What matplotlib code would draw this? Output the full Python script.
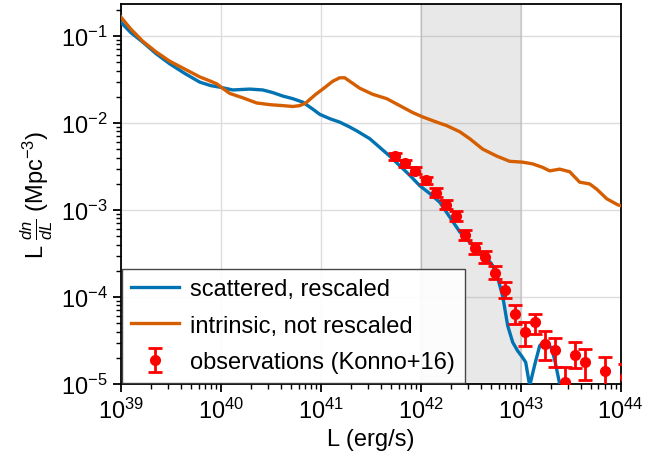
import numpy as np
import matplotlib
matplotlib.use("Agg")
import matplotlib.pyplot as plt

plt.rcParams['font.family'] = ['Liberation Sans', 'DejaVu Sans']
plt.rcParams['mathtext.fontset'] = 'custom'
plt.rcParams['mathtext.rm'] = 'Liberation Sans'
plt.rcParams['mathtext.it'] = 'Liberation Sans:italic'
plt.rcParams['mathtext.bf'] = 'Liberation Sans:bold'
plt.rcParams['font.size'] = 17

# scattered, rescaled (log10 L, log10 L dn/dL)
scat_logL = [39.0, 39.1, 39.22, 39.35, 39.49, 39.64, 39.79, 39.9, 40.0, 40.12,
             40.29, 40.42, 40.52, 40.62, 40.72, 40.82, 40.92, 40.99, 41.09, 41.19,
             41.28, 41.36, 41.49, 41.59, 41.69, 41.79, 41.89, 41.99, 42.09, 42.19,
             42.29, 42.39, 42.49, 42.59, 42.66, 42.72, 42.77, 42.82, 42.87, 42.92,
             42.97, 43.01, 43.05, 43.09, 43.14, 43.19, 43.24, 43.27, 43.31, 43.34,
             43.39, 43.45]
scat_logn = [-0.84, -0.96, -1.07, -1.20, -1.32, -1.43, -1.53, -1.57, -1.59, -1.62,
             -1.61, -1.62, -1.65, -1.69, -1.72, -1.76, -1.84, -1.90, -1.95, -1.99,
             -2.04, -2.09, -2.18, -2.28, -2.38, -2.49, -2.60, -2.72, -2.81, -2.91,
             -3.08, -3.25, -3.37, -3.48, -3.55, -3.64, -3.78, -3.99, -4.33, -4.52,
             -4.62, -4.68, -4.75, -5.02, -4.78, -4.56, -4.50, -4.52, -4.60, -4.72,
             -5.0, -5.5]

# intrinsic, not rescaled
intr_logL = [39.0, 39.1, 39.22, 39.35, 39.49, 39.64, 39.79, 39.9, 39.96, 40.03,
             40.09, 40.22, 40.36, 40.5, 40.62, 40.72, 40.79, 40.85, 40.89, 40.95,
             41.02, 41.12, 41.19, 41.24, 41.29, 41.39, 41.52, 41.66, 41.79, 41.92,
             42.02, 42.16, 42.26, 42.39, 42.49, 42.62, 42.76, 42.89, 43.02, 43.12,
             43.22, 43.29, 43.39, 43.49, 43.59, 43.69, 43.76, 43.86, 43.97, 44.0]
intr_logn = [-0.78, -0.92, -1.06, -1.18, -1.29, -1.38, -1.47, -1.52, -1.55, -1.61,
             -1.66, -1.71, -1.77, -1.79, -1.80, -1.81, -1.80, -1.77, -1.73, -1.67,
             -1.61, -1.52, -1.48, -1.48, -1.52, -1.60, -1.67, -1.72, -1.80, -1.88,
             -1.93, -1.99, -2.03, -2.10, -2.18, -2.30, -2.38, -2.44, -2.45, -2.47,
             -2.51, -2.55, -2.53, -2.56, -2.68, -2.70, -2.76, -2.87, -2.94, -2.95]

# Konno+16 observations
obs_logL = [41.74, 41.84, 41.94, 42.05, 42.15, 42.25, 42.35, 42.44, 42.54, 42.64,
            42.74, 42.84, 42.94, 43.04, 43.14, 43.24, 43.34, 43.44, 43.54, 43.64,
            43.84, 44.04]
obs_logn = [-2.38, -2.46, -2.55, -2.66, -2.80, -2.94, -3.07, -3.29, -3.44, -3.54,
            -3.72, -3.92, -4.20, -4.40, -4.29, -4.54, -4.61, -4.98, -4.67, -4.75,
            -4.85, -4.92]
obs_err_lo = [0.04, 0.04, 0.04, 0.045, 0.05, 0.05, 0.055, 0.06, 0.065, 0.07,
              0.077, 0.088, 0.11, 0.16, 0.13, 0.18, 0.2, 0.2, 0.15, 0.2,
              0.2, 0.2]
obs_err_hi = [0.04, 0.04, 0.04, 0.045, 0.05, 0.05, 0.055, 0.06, 0.065, 0.07,
              0.077, 0.088, 0.11, 0.11, 0.1, 0.15, 0.14, 0.17, 0.15, 0.15,
              0.16, 0.15]

shade_range = (1e42, 1e43)

blue = '#0173b2'
orange = '#d55e00'

fig = plt.figure(figsize=(6.71, 4.6), dpi=100)
ax = fig.add_axes([0.180, 0.163, 0.745, 0.826])

ax.axvspan(*shade_range, color='gray', alpha=0.18, lw=1.5, zorder=1)

ax.plot(10**np.array(scat_logL), 10**np.array(scat_logn), color=blue, lw=2.4,
        label='scattered, rescaled', zorder=3)
ax.plot(10**np.array(intr_logL), 10**np.array(intr_logn), color=orange, lw=2.4,
        label='intrinsic, not rescaled', zorder=3)

y = 10**np.array(obs_logn)
ylo = y - 10**(np.array(obs_logn) - np.array(obs_err_lo))
yhi = 10**(np.array(obs_logn) + np.array(obs_err_hi)) - y
ax.errorbar(10**np.array(obs_logL), y, yerr=[ylo, yhi], fmt='o', color='red',
            ms=7, elinewidth=2, capsize=5, capthick=2,
            label='observations (Konno+16)', zorder=4)

ax.set_xscale('log')
ax.set_yscale('log')
ax.set_xlim(1e39, 1e44)
ax.set_ylim(1e-5, 0.233)
ax.grid(True, which='major', color='#dddddd', lw=1, zorder=0)
ax.set_axisbelow(True)

ax.set_xlabel('L (erg/s)')
ax.set_ylabel(r'L $\frac{dn}{dL}$ (Mpc$^{-3}$)')

for s in ax.spines.values():
    s.set_linewidth(1.3)
ax.tick_params(which='major', length=6, width=1.3)
ax.tick_params(which='minor', length=3.5, width=1.0)

leg = ax.legend(loc='lower left', borderaxespad=0.05, fancybox=False,
                edgecolor='#333333', framealpha=0.9, fontsize=17,
                labelspacing=0.62, handletextpad=0.5)
leg.get_frame().set_linewidth(1.0)

fig.savefig('out.png', dpi=100)
